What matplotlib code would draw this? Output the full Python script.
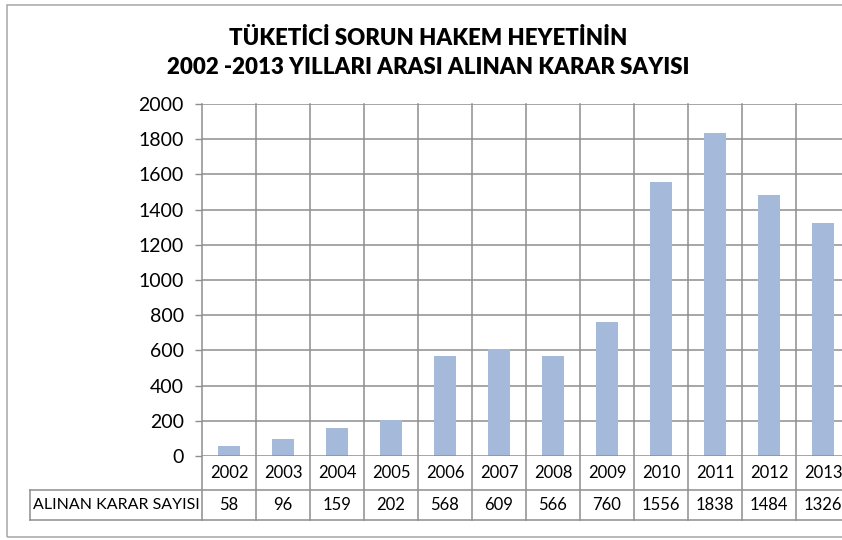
import matplotlib.pyplot as plt
import matplotlib.transforms as mtransforms
from matplotlib.patches import Rectangle

Years = ["2002", "2003", "2004", "2005", "2006", "2007", "2008", "2009", "2010", "2011", "2012", "2013"]
KararSayisi = [58, 96, 159, 202, 568, 609, 566, 760, 1556, 1838, 1484, 1326]
RowLabel = "ALINAN KARAR SAYISI"
Title = "TÜKETİCİ SORUN HAKEM HEYETİNİN\n2002 -2013 YILLARI ARASI ALINAN KARAR SAYISI"

plt.rcParams['font.family'] = ['Lato', 'DejaVu Sans']

BarColor = '#A5B9DA'
GridColor = '#8E8E8E'

Fig = plt.figure(figsize=(8.42, 5.40), dpi=100)
W, H = 842, 540
# plot area in pixels: left 202, top 104, bottom 456, 54 px per category (runs past the right edge)
Ax = Fig.add_axes([202 / W, (H - 456) / H, 648 / W, 352 / H])

X = list(range(len(Years)))
Ax.bar(X, KararSayisi, width=0.4, color=BarColor, zorder=3)
Ax.set_xlim(-0.5, len(Years) - 0.5)
Ax.set_ylim(0, 2000)
Ax.set_yticks(range(0, 2001, 200))
Ax.tick_params(axis='y', length=5, width=1, color=GridColor, pad=8, labelsize=14)
Ax.set_xticks([])

for Y in range(200, 2001, 200):
    Ax.axhline(Y, color=GridColor, lw=1.1, zorder=1)
for Spine in Ax.spines.values():
    Spine.set_visible(False)
Ax.axhline(0, color=GridColor, lw=1.1, zorder=4)

# data table below the axis, x in data units, y in axes units
Trans = mtransforms.blended_transform_factory(Ax.transData, Ax.transAxes)
Row1 = -34 / 352
Row2 = -64 / 352
LabelLeft = -0.5 - (202 - 30) / 54

for I in range(len(Years) + 1):
    Ax.plot([I - 0.5, I - 0.5], [Row2, 1], color=GridColor, lw=1.1, transform=Trans, clip_on=False, zorder=1)
Ax.plot([LabelLeft, 12], [Row1, Row1], color=GridColor, lw=1.1, transform=Trans, clip_on=False)
Ax.plot([LabelLeft, 12], [Row2, Row2], color=GridColor, lw=1.1, transform=Trans, clip_on=False)
Ax.plot([LabelLeft, LabelLeft], [Row1, Row2], color=GridColor, lw=1.1, transform=Trans, clip_on=False)

for I, (Year, Value) in enumerate(zip(Years, KararSayisi)):
    Ax.text(I, Row1 / 2, Year, ha='center', va='center', fontsize=12, transform=Trans, clip_on=False)
    Ax.text(I, (Row1 + Row2) / 2, str(Value), ha='center', va='center', fontsize=12, transform=Trans, clip_on=False)
Ax.text((LabelLeft - 0.5) / 2, (Row1 + Row2) / 2, RowLabel, ha='center', va='center', fontsize=11.5,
        transform=Trans, clip_on=False)

Fig.text(428 / W, 1 - 53 / H, Title, ha='center', va='center', fontsize=16, fontweight='heavy', linespacing=1.5)

# outer chart border
Fig.patches.append(Rectangle((7 / W, 3 / H), 1.2, 532 / H, transform=Fig.transFigure,
                             fill=False, edgecolor='#A6A6A6', lw=1.1))

Fig.savefig("out.png", dpi=100)
